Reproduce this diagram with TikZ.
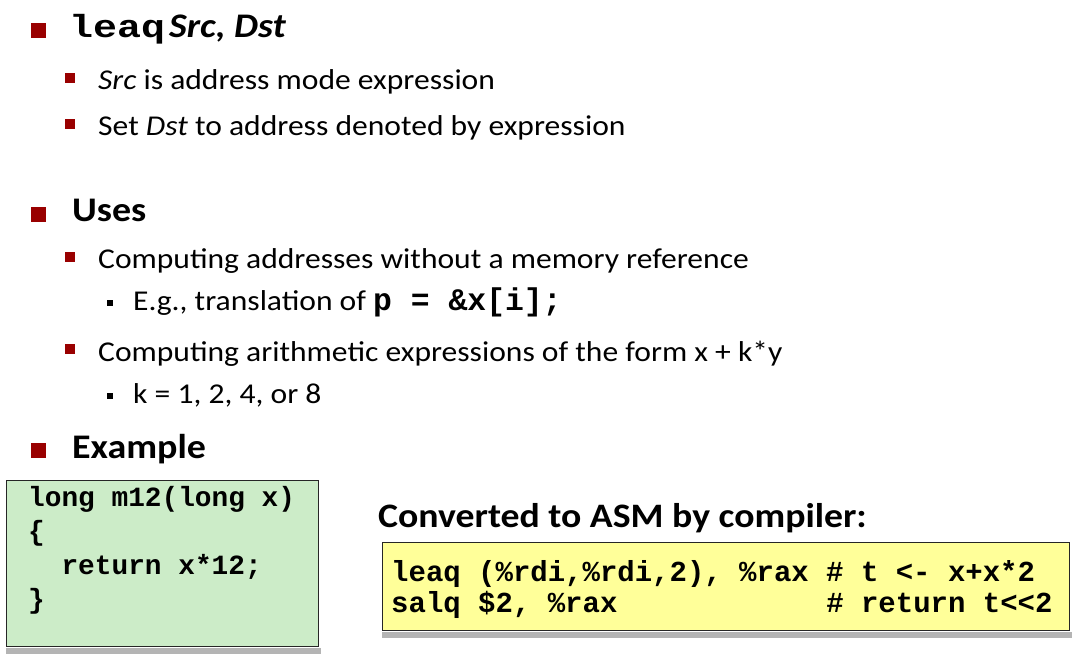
\documentclass[tikz,border=0pt]{standalone}
\usepackage{fontspec}
\setmainfont{Carlito}[FakeStretch=1.1]
\setmonofont{Liberation Mono}
\newfontfamily\widemono{Liberation Mono}[FakeStretch=1.25]
\usetikzlibrary{positioning}
\definecolor{bulletred}{RGB}{153,0,0}
\definecolor{codegreen}{RGB}{204,236,200}
\definecolor{codeyellow}{RGB}{255,255,153}
\definecolor{shadowgray}{RGB}{180,180,180}

\begin{document}
\begin{tikzpicture}[x=1pt,y=-1pt,
  lvlone/.style={anchor=base west,inner sep=0pt,font=\fontsize{34.5}{40}\selectfont\bfseries},
  lvltwo/.style={anchor=base west,inner sep=0pt,font=\fontsize{28.7}{34}\selectfont},
  lvlthree/.style={anchor=base west,inner sep=0pt,font=\fontsize{28.7}{34}\selectfont},
  sqone/.style={fill=bulletred,inner sep=0pt,minimum size=15pt,anchor=south east},
  sqtwo/.style={fill=bulletred,inner sep=0pt,minimum size=10pt,anchor=south east},
  sqthree/.style={fill=black,inner sep=0pt,minimum size=6pt,anchor=south east},
  codebox/.style={draw=black!85,line width=1.2pt,inner sep=0pt,anchor=north west},
  greencode/.style={anchor=base west,inner sep=0pt,font=\fontsize{27.8}{34}\selectfont\ttfamily\bfseries},
  yellowcode/.style={anchor=base west,inner sep=0pt,font=\fontsize{29}{34}\selectfont\ttfamily\bfseries}
]
\useasboundingbox[fill=white] (0,0) rectangle (1080,658);

% leaq line
\node[lvlone] (leaq) at (69,38) {{\fontsize{32}{38}\selectfont\widemono leaq}\hspace{4pt}\textit{Src, Dst}};
\node[sqone] (bleaq) at ([xshift=-23pt]leaq.base west) {};
\node[lvltwo] (src) at (98,90) {\textit{Src} is address mode expression};
\node[sqtwo] (bsrc) at ([xshift=-23pt,yshift=7pt]src.base west) {};
\node[lvltwo] (dst) at (98,136) {Set \textit{Dst} to address denoted by expression};
\node[sqtwo] (bdst) at ([xshift=-23pt,yshift=7pt]dst.base west) {};

% uses
\node[lvlone] (uses) at (72,222) {Uses};
\node[sqone] (buses) at ([xshift=-26pt]uses.base west) {};
\node[lvltwo] (addr) at (98,269) {Computing addresses without a memory reference};
\node[sqtwo] (baddr) at ([xshift=-23pt,yshift=7pt]addr.base west) {};
\node[lvlthree] (eg) at (133,310) {E.g., translation of {\fontsize{31.4}{36}\selectfont\ttfamily\bfseries p = \&x[i];}};
\node[sqthree] (beg) at ([xshift=-20pt,yshift=4pt]eg.base west) {};
\node[lvltwo] (arith) at (98,361) {Computing arithmetic expressions of the form x + k*y};
\node[sqtwo] (barith) at ([xshift=-23pt,yshift=7pt]arith.base west) {};
\node[lvlthree] (kval) at (133,403) {k = 1, 2, 4, or 8};
\node[sqthree] (bkval) at ([xshift=-20pt,yshift=4pt]kval.base west) {};

% example
\node[lvlone] (ex) at (72,458) {Example};
\node[sqone] (bex) at ([xshift=-26pt]ex.base west) {};

\node[codebox,fill=codegreen,minimum width=312pt,minimum height=166pt] (cbox) at (6,480) {};
\fill[shadowgray] ([yshift=-1pt]cbox.south west) rectangle ([xshift=2pt,yshift=-7pt]cbox.south east);
\node[greencode] (c1) at (28,506) {long m12(long x)};
\node[greencode] (c2) at (28,540) {\{};
\node[greencode] (c3) at (28,574) {\ \ return x*12;};
\node[greencode] (c4) at (28,608) {\}};

\node[lvlone,font=\fontsize{34.3}{40}\selectfont\bfseries] (conv) at (378,527) {Converted to ASM by compiler:};

\node[codebox,fill=codeyellow,minimum width=687pt,minimum height=88pt] (abox) at (382,542) {};
\fill[shadowgray] ([yshift=-1pt]abox.south west) rectangle ([xshift=2pt,yshift=-7pt]abox.south east);
\node[yellowcode] (a1) at (391,581) {leaq (\%rdi,\%rdi,2), \%rax \# t <- x+x*2};
\node[yellowcode] (a2) at (391,612) {salq \$2, \%rax\hphantom{xxxxxxxxxxxx}\# return t<{}<2};
\end{tikzpicture}
\end{document}
